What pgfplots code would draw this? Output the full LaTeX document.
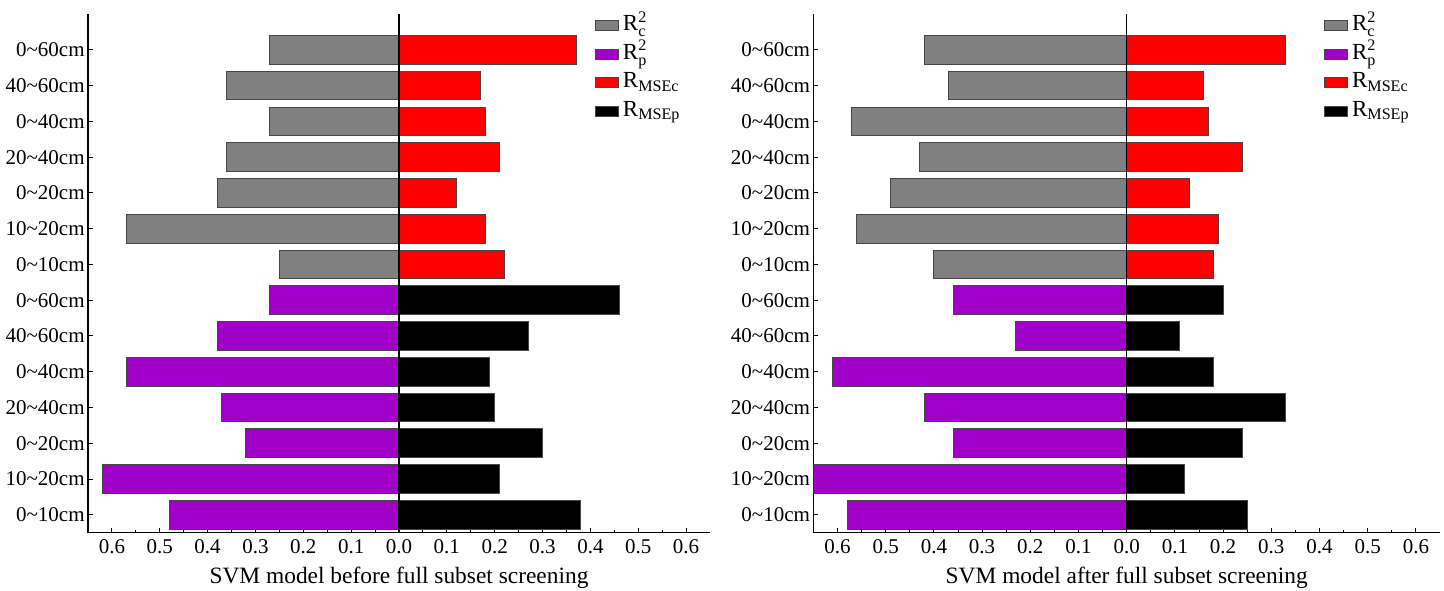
\documentclass[border=0pt]{standalone}
\usepackage{fontspec}
\setmainfont{Liberation Serif}
\usepackage{amsmath}
\usepackage{pgfplots}
\pgfplotsset{compat=1.18}

\definecolor{cgray}{RGB}{128,128,128}
\definecolor{cpurple}{RGB}{160,0,200}
\definecolor{cred}{RGB}{255,0,0}
\definecolor{cedge}{RGB}{70,70,70}

\pgfplotsset{
    svm/.style={
        scale only axis,
        height=259.3pt,
        xmin=-0.65, xmax=0.65,
        ymin=0.5, ymax=15,
        enlargelimits=false,
        axis x line=bottom,
        axis y line=left,
        axis line style={-, black, line width=0.6pt},
        xtick={-0.6,-0.5,-0.4,-0.3,-0.2,-0.1,0,0.1,0.2,0.3,0.4,0.5,0.6},
        xticklabels={0.6,0.5,0.4,0.3,0.2,0.1,0.0,0.1,0.2,0.3,0.4,0.5,0.6},
        minor x tick num=1,
        ytick={1,...,14},
        yticklabels={0\textasciitilde10cm,10\textasciitilde20cm,0\textasciitilde20cm,20\textasciitilde40cm,0\textasciitilde40cm,40\textasciitilde60cm,0\textasciitilde60cm,
                     0\textasciitilde10cm,10\textasciitilde20cm,0\textasciitilde20cm,20\textasciitilde40cm,0\textasciitilde40cm,40\textasciitilde60cm,0\textasciitilde60cm},
        tick align=inside,
        major tick length=2.5pt,
        minor tick length=1.5pt,
        tick style={black, line width=0.5pt},
        ticklabel style={font=\fontsize{10.5}{12}\selectfont},
        yticklabel style={inner xsep=1.5pt},
        xlabel style={font=\fontsize{11.7}{13}\selectfont, at={(rel axis cs:0.5,0)}, anchor=north, yshift=-13.5pt},
        legend style={at={(rel axis cs:0.815,1.003)}, anchor=north west, draw=none, fill=none,
                      inner sep=0pt, row sep=1.2pt, font=\fontsize{11.5}{13}\selectfont,
                      nodes={inner ysep=1pt, text height=8pt, text depth=3pt}},
        legend cell align=left,
        legend image code/.code={\draw[##1] (0pt,-2.5pt) rectangle (11.3pt,2.5pt);},
    },
    hb/.style={xbar, bar width=0.8, bar shift=0pt, draw=cedge, line width=0.5pt, fill=#1},
}

\begin{document}
\begin{tikzpicture}
\useasboundingbox (0,0) rectangle (722pt,295pt);

% before screening
\begin{axis}[svm, width=311pt, at={(44pt,28.65pt)}, anchor=south west,
    xlabel={SVM model before full subset screening}]
    \addplot[hb=cgray] coordinates {(-0.25,8) (-0.57,9) (-0.38,10) (-0.36,11) (-0.27,12) (-0.36,13) (-0.27,14)};
    \addlegendentry{$\text{R}_\text{c}^\text{2}$}
    \addplot[hb=cpurple] coordinates {(-0.48,1) (-0.62,2) (-0.32,3) (-0.37,4) (-0.57,5) (-0.38,6) (-0.27,7)};
    \addlegendentry{$\text{R}_\text{p}^\text{2}$}
    \addplot[hb=cred] coordinates {(0.22,8) (0.18,9) (0.12,10) (0.21,11) (0.18,12) (0.17,13) (0.37,14)};
    \addlegendentry{$\text{R}_\text{MSEc}$}
    \addplot[hb=black] coordinates {(0.38,1) (0.21,2) (0.30,3) (0.20,4) (0.19,5) (0.27,6) (0.46,7)};
    \addlegendentry{$\text{R}_\text{MSEp}$}
    \addplot[black, line width=0.6pt, forget plot] coordinates {(0,0.5) (0,15)};
\end{axis}

% after screening
\begin{axis}[svm, width=313.3pt, at={(406.7pt,28.65pt)}, anchor=south west,
    xlabel={SVM model after full subset screening}]
    \addplot[hb=cgray] coordinates {(-0.40,8) (-0.56,9) (-0.49,10) (-0.43,11) (-0.57,12) (-0.37,13) (-0.42,14)};
    \addlegendentry{$\text{R}_\text{c}^\text{2}$}
    \addplot[hb=cpurple] coordinates {(-0.58,1) (-0.68,2) (-0.36,3) (-0.42,4) (-0.61,5) (-0.23,6) (-0.36,7)};
    \addlegendentry{$\text{R}_\text{p}^\text{2}$}
    \addplot[hb=cred] coordinates {(0.18,8) (0.19,9) (0.13,10) (0.24,11) (0.17,12) (0.16,13) (0.33,14)};
    \addlegendentry{$\text{R}_\text{MSEc}$}
    \addplot[hb=black] coordinates {(0.25,1) (0.12,2) (0.24,3) (0.33,4) (0.18,5) (0.11,6) (0.20,7)};
    \addlegendentry{$\text{R}_\text{MSEp}$}
    \addplot[black, line width=0.6pt, forget plot] coordinates {(0,0.5) (0,15)};
\end{axis}
\end{tikzpicture}
\end{document}
